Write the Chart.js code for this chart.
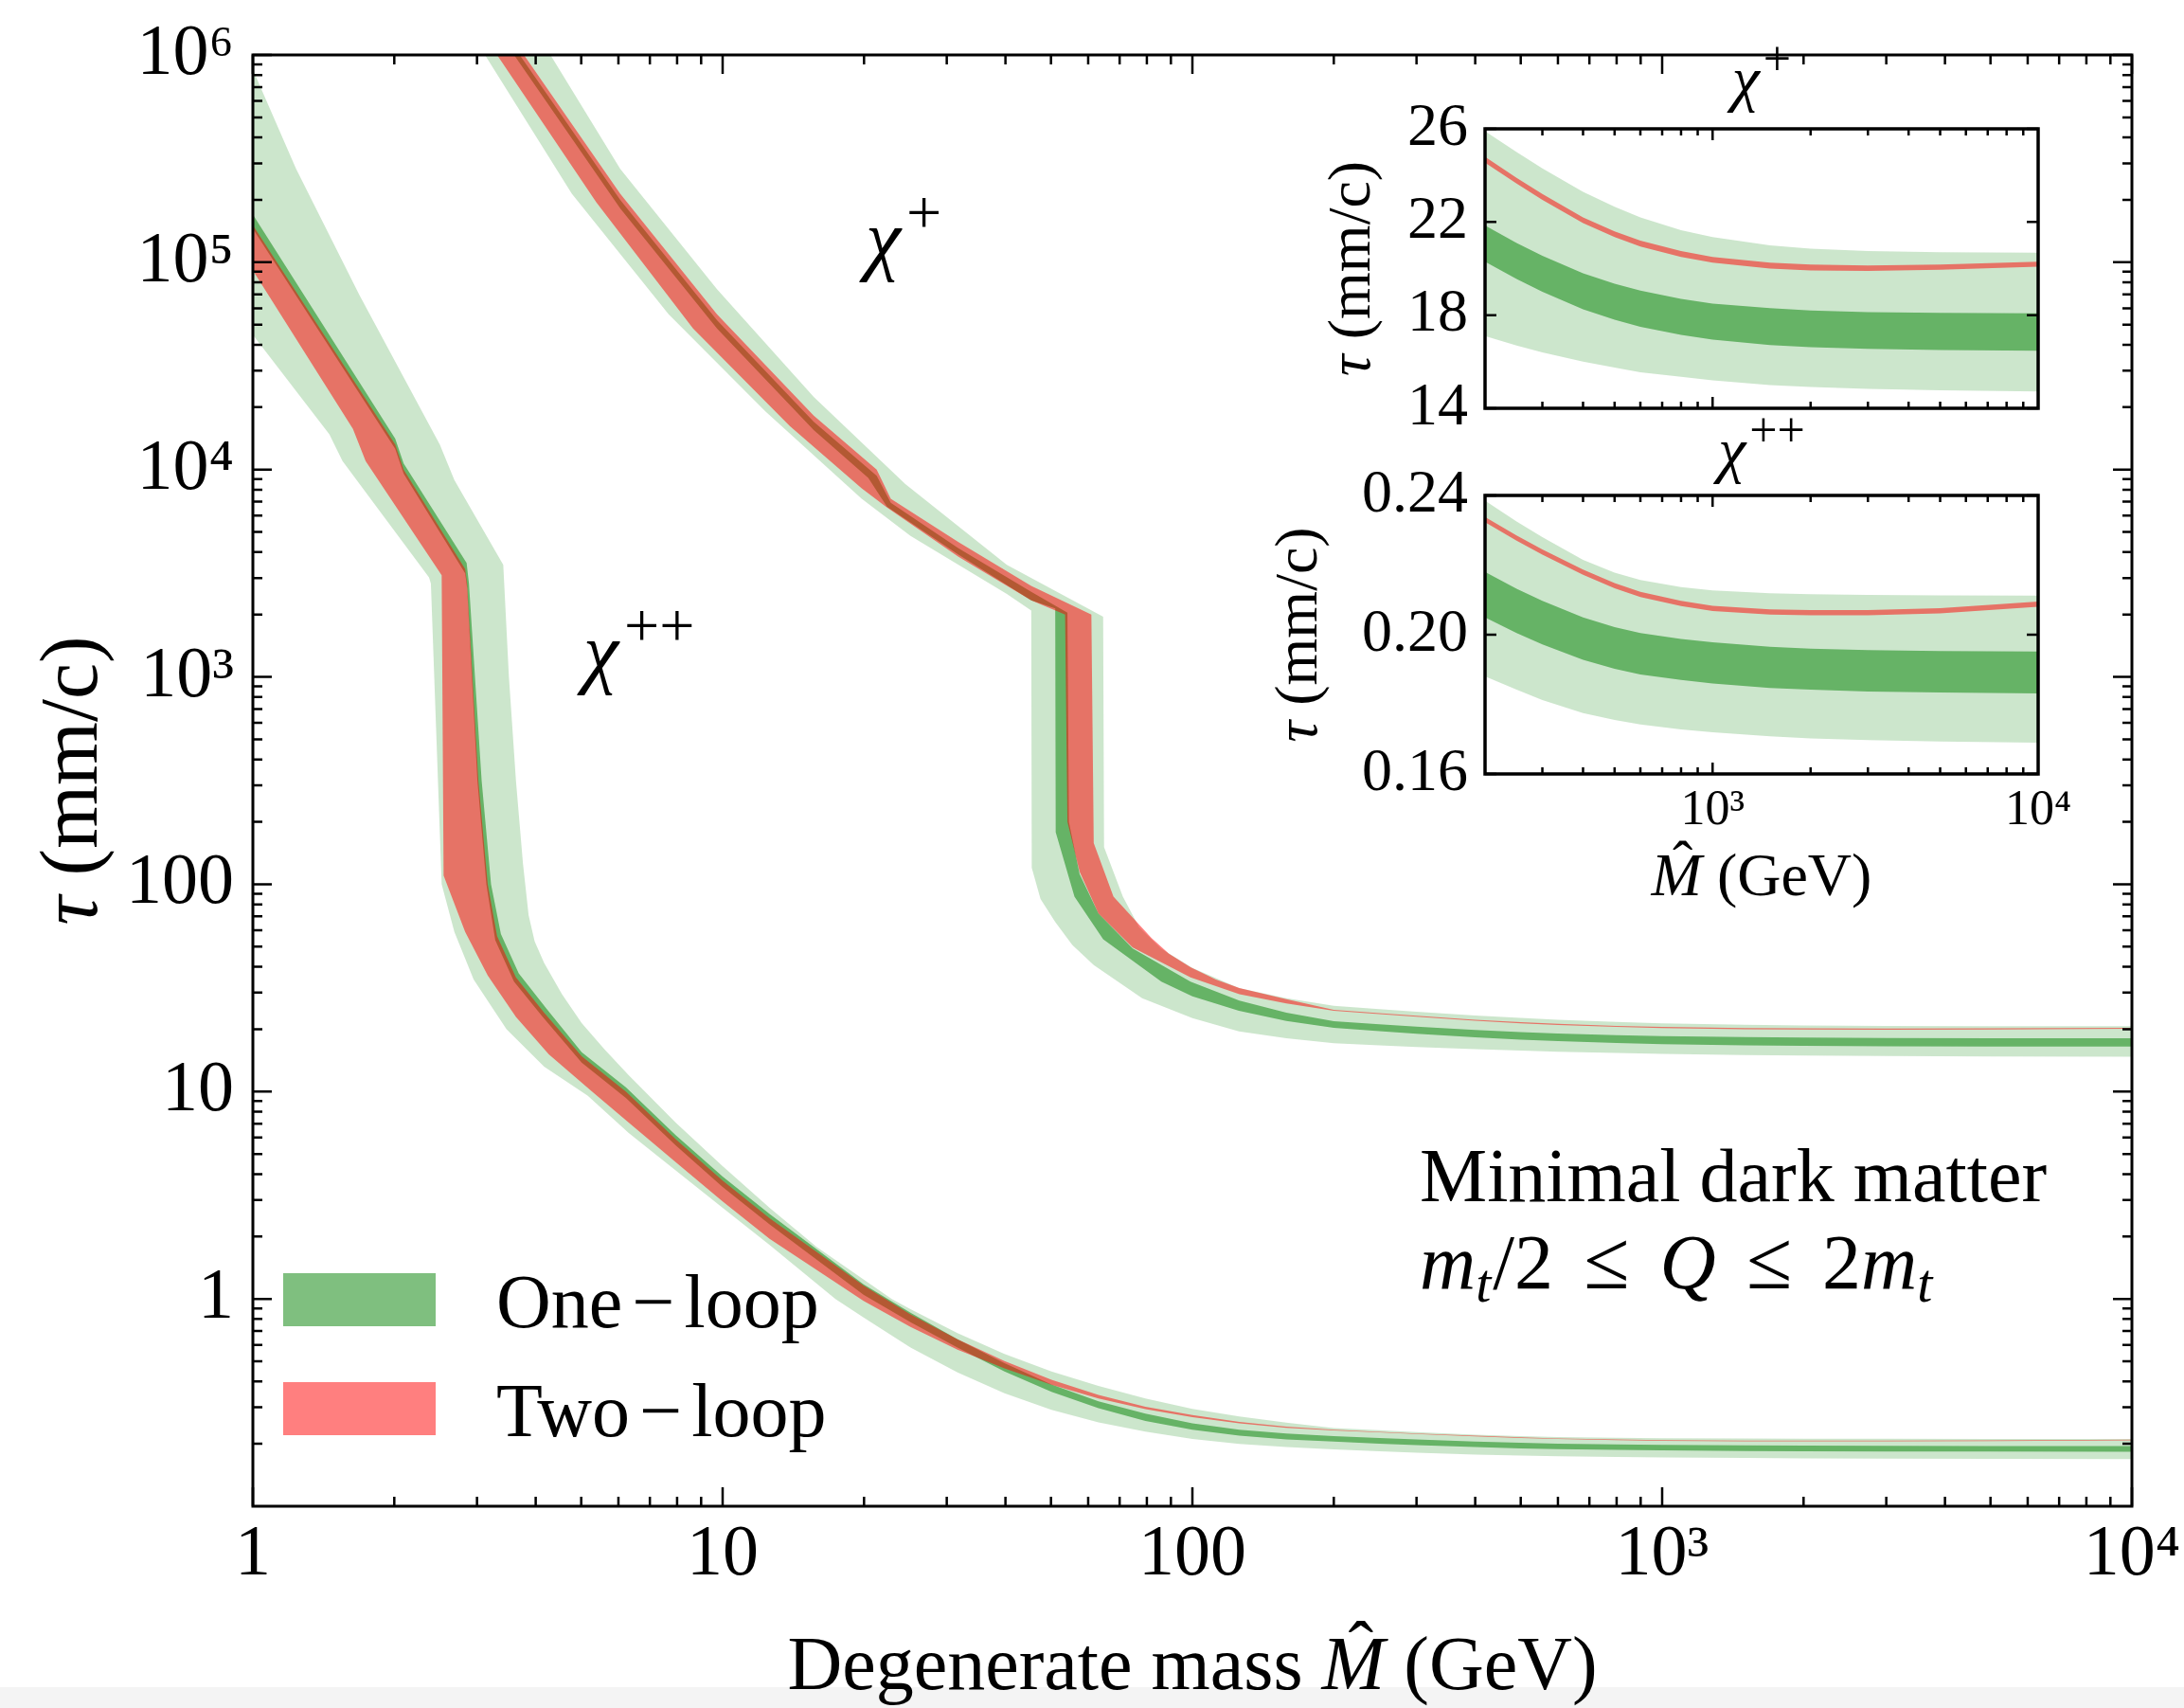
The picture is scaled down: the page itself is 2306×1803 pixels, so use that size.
<!DOCTYPE html>
<html>
<head>
<meta charset="utf-8">
<script src="https://cdn.jsdelivr.net/npm/chart.js@4.4.1/dist/chart.umd.min.js"></script>
<style>
  html, body { margin: 0; padding: 0; background: #fff; }
  #page { position: relative; width: 2306px; height: 1803px; overflow: hidden; background: #fff; }
  #page canvas { position: absolute; }
  #strip { position: absolute; left: 0; top: 1781px; width: 2306px; height: 22px; background: #f4f4f4; }
</style>
</head>
<body>
<div id="page">
  <div id="strip"></div>
  <canvas id="main" width="2306" height="1803" style="left:0;top:0;width:2306px;height:1803px"></canvas>
  <canvas id="insetTop" width="850" height="430" style="left:1380px;top:20px;width:850px;height:430px"></canvas>
  <canvas id="insetBottom" width="930" height="570" style="left:1300px;top:400px;width:930px;height:570px"></canvas>
</div>
<script>
// ---- chi++ (lower curve), below 200 GeV: [mass GeV, tau mm/c] ----
const ppLightUp = [
  [1, 8.5e5], [1.236, 2.82e5], [1.687, 6.92e4], [2.5, 1.32e4], [2.685, 8.91e3],
  [3.412, 3.47e3], [3.508, 1000], [3.631, 316], [3.758, 126], [3.864, 70.8],
  [3.98, 53], [4.169, 41.7], [4.55, 29.5], [5.012, 21.4], [5.6, 16.0], [6.31, 12.0],
  [7.943, 7.08], [10, 4.37], [12.59, 2.75], [15.85, 1.78], [22.91, 1.0], [25.12, 0.891],
  [31.62, 0.684], [39.81, 0.543], [50.12, 0.447], [63.1, 0.38], [79.43, 0.331],
  [100, 0.295], [125.9, 0.271], [158.5, 0.253]
];
const ppLightLo = [
  [1, 4.47e4], [1.455, 1.48e4], [1.552, 1.10e4], [2.371, 3.02e3], [2.393, 2.82e3],
  [2.523, 100], [2.685, 58.9], [2.951, 34.7], [3.467, 20.0], [4.169, 13.2],
  [5.164, 9.55], [6.31, 6.31], [7.943, 4.17], [10, 2.75], [12.59, 1.82],
  [17.38, 1.0], [19.95, 0.813], [25.12, 0.582], [31.62, 0.442], [39.81, 0.351],
  [50.12, 0.292], [63.1, 0.254], [79.43, 0.229], [100, 0.211], [125.9, 0.1995], [158.5, 0.193]
];
const ppDarkUp = [
  [1, 1.70e5], [2.009, 1.41e4], [2.094, 1.07e4], [2.851, 3.55e3], [2.884, 2.82e3],
  [3.069, 316], [3.214, 100], [3.373, 57.5], [3.681, 37.2], [4.217, 25.1],
  [5.012, 15.5], [6.223, 10.5], [7.943, 6.17], [10, 3.89], [12.59, 2.57],
  [19.95, 1.175], [25.12, 0.857], [31.62, 0.638], [39.81, 0.49], [50.12, 0.387],
  [63.1, 0.321], [79.43, 0.28], [100, 0.251], [125.9, 0.234], [158.5, 0.224]
];
const ppDarkLo = [
  [1, 1.45e5], [2.009, 1.26e4], [2.094, 9.55e3], [2.831, 3.16e3], [2.858, 2.69e3],
  [3.006, 316], [3.141, 100], [3.281, 53.7], [3.597, 33.9], [4.14, 22.9],
  [5.012, 13.8], [6.223, 9.33], [7.943, 5.5], [10, 3.47], [12.59, 2.29],
  [19.95, 1.047], [25.12, 0.771], [31.62, 0.582], [39.81, 0.447], [50.12, 0.356],
  [63.1, 0.297], [79.43, 0.258], [100, 0.234], [125.9, 0.219], [158.5, 0.21]
];
const ppRedUp = [
  [1, 1.51e5], [2.009, 1.32e4], [2.094, 1.0e4], [2.831, 3.31e3], [2.858, 2.82e3],
  [3.02, 316], [3.162, 100], [3.311, 56.2], [3.631, 35.5], [4.169, 24.0],
  [5.012, 14.8], [6.223, 10.0], [7.943, 5.89], [10, 3.72], [12.59, 2.45],
  [19.95, 1.161], [25.12, 0.841], [31.62, 0.638], [39.81, 0.501], [50.12, 0.407],
  [63.1, 0.344], [79.43, 0.302], [100, 0.275], [125.9, 0.255], [158.5, 0.242]
];
const ppRedLo = [
  [1, 9.12e4], [1.633, 1.57e4], [1.738, 1.10e4], [2.523, 3.09e3], [2.547, 110],
  [2.831, 58.9], [3.162, 36.3], [3.631, 22.9], [4.266, 15.1], [5.272, 10.0],
  [6.31, 7.08], [7.943, 4.57], [10, 2.95], [12.59, 1.95], [19.95, 0.977],
  [25.12, 0.733], [31.62, 0.569], [39.81, 0.462], [50.12, 0.385], [63.1, 0.331],
  [79.43, 0.294], [100, 0.269], [125.9, 0.251], [158.5, 0.239]
];

// ---- chi+ (upper curve), below 200 GeV ----
const pLightUp = [
  [3.119, 1e6], [4.3, 1e6], [6.053, 2.82e5], [9.727, 7.41e4], [15.63, 2.24e4],
  [24.49, 8.51e3], [40.27, 3.47e3], [64.57, 1.95e3], [64.86, 151], [71.12, 87.1],
  [77, 62], [85.7, 49.0], [100, 39.5], [125.6, 31.6], [158.5, 28.2]
];
const pLightLo = [
  [3.119, 1e6], [4.775, 2.14e5], [7.674, 5.62e4], [12.33, 1.91e4], [19.77, 7.24e3],
  [25.12, 4.79e3], [40.27, 2.51e3], [45.39, 2.09e3], [45.5, 120], [47.5, 85],
  [51.05, 65.8], [55.5, 51], [61.66, 40.7], [78.16, 28.2], [100, 22.6], [125.6, 19.5],
  [158.5, 18.1]
];
const pDarkUp = [
  [3.597, 1e6], [3.698, 1e6], [6.053, 2.0e5], [9.727, 5.25e4], [15.63, 1.70e4],
  [21.28, 9.33e3], [22.8, 6.92e3], [31.77, 4.17e3], [45.39, 2.57e3], [54.2, 2.04e3],
  [54.58, 200], [57.54, 112], [63.1, 72.4], [74.65, 49.0], [99.08, 33.9], [125.9, 27.5],
  [158.5, 24.0]
];
const pDarkLo = [
  [3.597, 1e6], [6.053, 1.82e5], [9.727, 4.79e4], [15.63, 1.55e4], [20.42, 9.12e3],
  [22.39, 6.61e3], [31.77, 3.89e3], [45.39, 2.34e3], [51.05, 2.14e3], [51.17, 178],
  [56.1, 87.1], [64.57, 54.3], [85.9, 33.9], [100, 28.8], [125.6, 24.5], [158.5, 21.9]
];
const pRedUp = [
  [3.311, 1e6], [3.776, 1e6], [6.053, 2.14e5], [9.727, 5.62e4], [15.63, 1.82e4],
  [21.28, 1.0e4], [22.8, 7.24e3], [31.77, 4.47e3], [45.39, 2.75e3], [60.95, 2.0e3],
  [61.66, 158], [67.92, 87.1], [81.85, 55.0], [89.13, 46.2], [99.08, 39.8],
  [112.2, 34.7], [125.9, 31.6], [158.5, 27.9]
];
const pRedLo = [
  [3.311, 1e6], [5.383, 1.95e5], [8.65, 4.79e4], [13.9, 1.62e4], [19.77, 8.13e3],
  [22.28, 6.61e3], [31.77, 3.8e3], [45.39, 2.34e3], [53.58, 2.0e3], [54.2, 200],
  [57.54, 115], [63.1, 72.4], [74.65, 49.5], [99.08, 35.5], [125.9, 29.5], [158.5, 26.6]
];

// ---- heavy masses (shown in the insets, shared with the main plot) ----
const insetMass = [200, 250, 300, 400, 500, 600, 800, 1000, 1500, 2000, 3000, 5000, 10000];
const pTailLightUp = [25.9, 25.0, 24.3, 23.3, 22.65, 22.2, 21.65, 21.35, 21.0, 20.85, 20.75, 20.7, 20.68];
const pTailLightLo = [17.1, 16.7, 16.4, 16.0, 15.75, 15.55, 15.35, 15.2, 15.0, 14.92, 14.83, 14.77, 14.72];
const pTailDarkUp = [21.85, 21.1, 20.55, 19.8, 19.35, 19.05, 18.7, 18.5, 18.3, 18.2, 18.13, 18.1, 18.08];
const pTailDarkLo = [20.3, 19.55, 19.0, 18.25, 17.8, 17.5, 17.15, 16.95, 16.72, 16.62, 16.55, 16.5, 16.47];
const pTailRedUp = [24.8, 23.9, 23.2, 22.2, 21.6, 21.2, 20.75, 20.5, 20.25, 20.17, 20.13, 20.17, 20.3];
const pTailRedLo = [24.55, 23.65, 22.95, 21.95, 21.35, 20.95, 20.5, 20.25, 20.0, 19.92, 19.9, 19.95, 20.08];
const ppTailLightUp = [0.2385, 0.2325, 0.228, 0.2215, 0.2178, 0.2157, 0.2137, 0.2127, 0.2119, 0.2116, 0.2114, 0.2113, 0.2112];
const ppTailLightLo = [0.188, 0.1842, 0.1812, 0.1775, 0.1755, 0.1742, 0.1728, 0.172, 0.1708, 0.1702, 0.1697, 0.1693, 0.169];
const ppTailDarkUp = [0.218, 0.2132, 0.2097, 0.205, 0.2022, 0.2005, 0.1988, 0.1978, 0.1965, 0.196, 0.1956, 0.1953, 0.1952];
const ppTailDarkLo = [0.205, 0.2005, 0.1972, 0.1928, 0.1902, 0.1886, 0.187, 0.186, 0.1847, 0.1842, 0.1837, 0.1834, 0.1831];
const ppTailRedUp = [0.2338, 0.2285, 0.2245, 0.2187, 0.2148, 0.2123, 0.2097, 0.2083, 0.2073, 0.2071, 0.2071, 0.2076, 0.2095];
const ppTailRedLo = [0.2323, 0.227, 0.223, 0.2172, 0.2133, 0.2108, 0.2082, 0.2068, 0.2058, 0.2056, 0.2056, 0.2061, 0.208];

// ---- ticks and labels ----
const xTickValues = [1, 10, 100, 1000, 10000];
const xTickLabels = ['1', '10', '100', '10³', '10⁴'];
const yTickValues = [1, 10, 100, 1000, 10000, 100000, 1000000];
const yTickLabels = ['1', '10', '100', '10³', '10⁴', '10⁵', '10⁶'];
const insetXTickValues = [1000, 10000];
const insetXTickLabels = ['10³', '10⁴'];
const insetTopYTicks = [14, 18, 22, 26];
const insetTopYLabels = ['14', '18', '22', '26'];
const insetBottomYTicks = [0.16, 0.2, 0.24];
const insetBottomYLabels = ['0.16', '0.20', '0.24'];
const legendLabels = ['One', 'Two'];

const SERIF = '"Liberation Serif", "Times New Roman", serif';
const LIGHT = 'rgba(0, 128, 0, 0.2)';
const DARK = 'rgba(0, 128, 0, 0.5)';
const RED = 'rgba(255, 0, 0, 0.5)';

const withTail = (low, tail) => low.concat(insetMass.map((m, i) => [m, tail[i]]));
const tailOnly = (tail) => insetMass.map((m, i) => [m, tail[i]]);
const toPoints = (pairs) => pairs.map(([x, y]) => ({x, y}));

// upper edge first, lower edge fills up to it
const band = (upper, lower, color, order) => [
    {data: toPoints(upper), borderWidth: 0, pointRadius: 0, fill: false, order, backgroundColor: color},
    {data: toPoints(lower), borderWidth: 0, pointRadius: 0, fill: '-1', order, backgroundColor: color}
];

const logMinors = (min, max) => {
    const out = [];
    for (let d = Math.pow(10, Math.floor(Math.log10(min))); d < max; d *= 10) {
        for (let k = 2; k <= 9; k++) {
            const v = k * d;
            if (v > min * 1.0001 && v < max * 0.9999) {
                out.push(v);
            }
        }
    }
    return out;
};

const fontOf = (size, italic) => `${italic ? 'italic ' : ''}${size}px ${SERIF}`;

// draw a row of text pieces (italic, sub/superscripts, hats)
const drawRich = (ctx, runs, x, y, align) => {
    const parts = runs.map(r => {
        ctx.font = fontOf(r.size, r.it);
        return {...r, w: ctx.measureText(r.t).width};
    });
    const total = parts.reduce((s, p) => s + p.w + (p.gap || 0), 0);
    let cx = align === 'center' ? x - total / 2 : x;
    ctx.fillStyle = '#000';
    ctx.textBaseline = 'alphabetic';
    for (const p of parts) {
        cx += p.gap || 0;
        ctx.textAlign = 'left';
        ctx.font = fontOf(p.size, p.it);
        ctx.fillText(p.t, cx, y + (p.dy || 0));
        if (p.hat) {
            ctx.textAlign = 'center';
            ctx.font = fontOf(p.size, false);
            ctx.fillText('ˆ', cx + p.w * 0.62, y - p.size * 0.2);
        }
        cx += p.w;
    }
};

const drawRotated = (ctx, runs, x, y) => {
    ctx.save();
    ctx.translate(x, y);
    ctx.rotate(-Math.PI / 2);
    drawRich(ctx, runs, 0, 0, 'center');
    ctx.restore();
};

const frameTicks = {
    id: 'frameTicks',
    afterDraw(chart, args, o) {
        const {ctx, chartArea: a, scales: {x, y}} = chart;
        ctx.save();
        ctx.strokeStyle = '#000';
        ctx.lineWidth = o.tickWidth;
        ctx.beginPath();
        const xTicks = (vals, len) => vals.forEach(v => {
            const p = x.getPixelForValue(v);
            ctx.moveTo(p, a.bottom); ctx.lineTo(p, a.bottom - len);
            ctx.moveTo(p, a.top); ctx.lineTo(p, a.top + len);
        });
        const yTicks = (vals, len) => vals.forEach(v => {
            const p = y.getPixelForValue(v);
            ctx.moveTo(a.left, p); ctx.lineTo(a.left + len, p);
            ctx.moveTo(a.right, p); ctx.lineTo(a.right - len, p);
        });
        xTicks(o.xMajor, o.major);
        xTicks(o.xMinor, o.minor);
        yTicks(o.yMajor, o.major);
        yTicks(o.yMinor, o.minor);
        ctx.stroke();
        ctx.lineWidth = o.frameWidth;
        ctx.strokeRect(a.left, a.top, a.right - a.left, a.bottom - a.top);
        ctx.restore();
    }
};

const mainText = {
    id: 'mainText',
    afterDraw(chart) {
        const {ctx, chartArea: a} = chart;
        ctx.save();
        drawRich(ctx, [
            {t: 'Degenerate mass ', size: 80},
            {t: 'M', size: 80, it: true, hat: true},
            {t: ' (GeV)', size: 80}
        ], (a.left + a.right) / 2, 1783, 'center');
        drawRotated(ctx, [{t: 'τ', size: 86, it: true}, {t: ' (mm/c)', size: 86}], 102, (a.top + a.bottom) / 2);

        drawRich(ctx, [{t: 'χ', size: 84, it: true}, {t: '+', size: 66, dy: -34, gap: 6}], 914, 280, 'left');
        drawRich(ctx, [{t: 'χ', size: 84, it: true}, {t: '++', size: 66, dy: -34, gap: 6}], 616, 716, 'left');

        drawRich(ctx, [{t: 'Minimal dark matter', size: 80}], 1499, 1268, 'left');
        drawRich(ctx, [
            {t: 'm', size: 82, it: true},
            {t: 't', size: 58, it: true, dy: 14},
            {t: '/2', size: 82, gap: 2},
            {t: '≤', size: 88, gap: 32},
            {t: 'Q', size: 82, it: true, gap: 32},
            {t: '≤', size: 88, gap: 32},
            {t: '2', size: 82, gap: 32},
            {t: 'm', size: 82, it: true},
            {t: 't', size: 58, it: true, dy: 14}
        ], 1499, 1360, 'left');

        // legend
        const swatches = ['rgba(0, 128, 0, 0.5)', 'rgba(255, 0, 0, 0.5)'];
        const rows = [1344, 1459];
        legendLabels.forEach((label, i) => {
            ctx.fillStyle = swatches[i];
            ctx.fillRect(299, rows[i], 161, 56);
            drawRich(ctx, [
                {t: label, size: 80},
                {t: '−', size: 80, gap: 10},
                {t: 'loop', size: 80, gap: 10}
            ], 524, rows[i] + 57, 'left');
        });
        ctx.restore();
    }
};

const mainDatasets = [
    ...band(withTail(pRedUp, pTailRedUp), withTail(pRedLo, pTailRedLo), RED, 1),
    ...band(withTail(ppRedUp, ppTailRedUp), withTail(ppRedLo, ppTailRedLo), RED, 1),
    ...band(withTail(pDarkUp, pTailDarkUp), withTail(pDarkLo, pTailDarkLo), DARK, 2),
    ...band(withTail(ppDarkUp, ppTailDarkUp), withTail(ppDarkLo, ppTailDarkLo), DARK, 2),
    ...band(withTail(pLightUp, pTailLightUp), withTail(pLightLo, pTailLightLo), LIGHT, 3),
    ...band(withTail(ppLightUp, ppTailLightUp), withTail(ppLightLo, ppTailLightLo), LIGHT, 3)
];

const axisFont = (size) => ({family: SERIF, size, lineHeight: 1.2});

new Chart(document.getElementById('main'), {
    type: 'line',
    data: {datasets: mainDatasets},
    options: {
        responsive: false,
        animation: false,
        devicePixelRatio: 1,
        events: [],
        layout: {padding: {left: 0, right: 55, top: 58, bottom: 0}},
        plugins: {
            legend: {display: false},
            tooltip: {enabled: false},
            frameTicks: {
                xMajor: xTickValues, xMinor: logMinors(1, 10000),
                yMajor: yTickValues, yMinor: logMinors(0.1, 1e6),
                major: 20, minor: 10, tickWidth: 2.5, frameWidth: 3
            }
        },
        scales: {
            x: {
                type: 'logarithmic', min: 1, max: 10000, position: 'bottom',
                grid: {display: false, drawTicks: false}, border: {display: false},
                afterBuildTicks: (s) => { s.ticks = xTickValues.map(value => ({value})); },
                afterFit: (s) => { s.height = 213; s.paddingLeft = 0; s.paddingRight = 0; },
                ticks: {
                    autoSkip: false, maxRotation: 0, padding: 6, color: '#000', font: axisFont(76),
                    callback: (v) => xTickLabels[xTickValues.indexOf(v)] ?? ''
                }
            },
            y: {
                type: 'logarithmic', min: 0.1, max: 1e6, position: 'left',
                grid: {display: false, drawTicks: false}, border: {display: false},
                afterBuildTicks: (s) => { s.ticks = yTickValues.map(value => ({value})); },
                afterFit: (s) => { s.width = 267; s.paddingTop = 0; s.paddingBottom = 0; },
                ticks: {
                    autoSkip: false, padding: 20, color: '#000', font: axisFont(76),
                    callback: (v) => yTickLabels[yTickValues.indexOf(v)] ?? ''
                }
            }
        }
    },
    plugins: [frameTicks, mainText]
});

const insetText = (title, titleGap, yLabelX, xLabel) => ({
    id: 'insetText',
    afterDraw(chart) {
        const {ctx, chartArea: a} = chart;
        const cx = (a.left + a.right) / 2;
        ctx.save();
        drawRich(ctx, [{t: 'χ', size: 66, it: true}, {t: title, size: 52, dy: -26, gap: 4}], cx, a.top - titleGap, 'center');
        drawRotated(ctx, [{t: 'τ', size: 64, it: true}, {t: ' (mm/c)', size: 64}], yLabelX, (a.top + a.bottom) / 2);
        if (xLabel) {
            drawRich(ctx, [{t: 'M', size: 64, it: true, hat: true}, {t: ' (GeV)', size: 64}], cx, xLabel, 'center');
        }
        ctx.restore();
    }
});

const makeInset = (id, p, yTicks, yLabels, yMin, yMax, xLabelsOn, text) => {
    const datasets = [
        ...band(tailOnly(p.redUp), tailOnly(p.redLo), RED, 1),
        ...band(tailOnly(p.darkUp), tailOnly(p.darkLo), DARK, 2),
        ...band(tailOnly(p.lightUp), tailOnly(p.lightLo), LIGHT, 3)
    ];
    new Chart(document.getElementById(id), {
        type: 'line',
        data: {datasets},
        options: {
            responsive: false,
            animation: false,
            devicePixelRatio: 1,
            events: [],
            layout: {padding: p.padding},
            plugins: {
                legend: {display: false},
                tooltip: {enabled: false},
                frameTicks: {
                    xMajor: [1000], xMinor: logMinors(200, 10000),
                    yMajor: yTicks, yMinor: [],
                    major: 12, minor: 7, tickWidth: 2.5, frameWidth: 3.5
                }
            },
            scales: {
                x: {
                    type: 'logarithmic', min: 200, max: 10000, position: 'bottom',
                    grid: {display: false, drawTicks: false}, border: {display: false},
                    afterBuildTicks: (s) => { s.ticks = insetXTickValues.map(value => ({value})); },
                    afterFit: (s) => { s.height = p.xHeight; s.paddingLeft = 0; s.paddingRight = 0; },
                    ticks: {
                        display: xLabelsOn, autoSkip: false, maxRotation: 0, padding: 8, color: '#000',
                        font: axisFont(52),
                        callback: (v) => insetXTickLabels[insetXTickValues.indexOf(v)] ?? ''
                    }
                },
                y: {
                    type: 'linear', min: yMin, max: yMax, position: 'left',
                    grid: {display: false, drawTicks: false}, border: {display: false},
                    afterBuildTicks: (s) => { s.ticks = yTicks.map(value => ({value})); },
                    afterFit: (s) => { s.width = p.yWidth; s.paddingTop = 0; s.paddingBottom = 0; },
                    ticks: {
                        autoSkip: false, padding: 18, color: '#000', font: axisFont(64),
                        callback: (v) => yLabels[yTicks.indexOf(v)] ?? ''
                    }
                }
            }
        },
        plugins: [frameTicks, text]
    });
};

makeInset('insetTop', {
    redUp: pTailRedUp, redLo: pTailRedLo, darkUp: pTailDarkUp, darkLo: pTailDarkLo,
    lightUp: pTailLightUp, lightLo: pTailLightLo,
    padding: {left: 0, right: 78, top: 116, bottom: 0}, yWidth: 188, xHeight: 19
}, insetTopYTicks, insetTopYLabels, 14, 26, false, insetText('+', 31, 66, null));

makeInset('insetBottom', {
    redUp: ppTailRedUp, redLo: ppTailRedLo, darkUp: ppTailDarkUp, darkLo: ppTailDarkLo,
    lightUp: ppTailLightUp, lightLo: ppTailLightLo,
    padding: {left: 0, right: 78, top: 123, bottom: 0}, yWidth: 268, xHeight: 153
}, insetBottomYTicks, insetBottomYLabels, 0.16, 0.24, true, insetText('++', 26, 90, 545));
</script>
</body>
</html>
